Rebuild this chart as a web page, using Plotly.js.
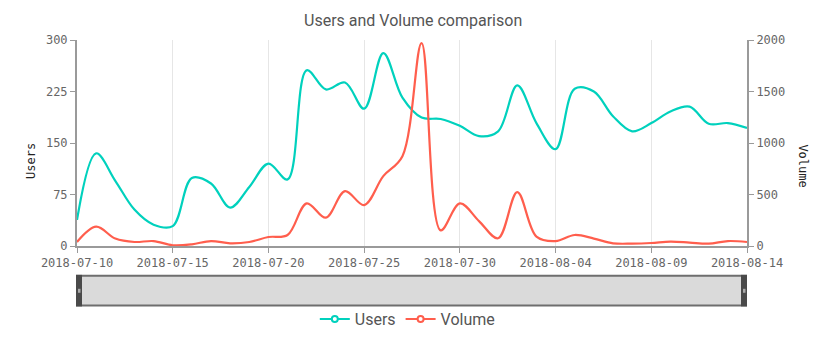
<!DOCTYPE html>
<html>
<head>
<meta charset="utf-8">
<script src="https://cdn.plot.ly/plotly-3.0.1.min.js"></script>
<style>html,body{margin:0;padding:0;background:#fff;}#chart{width:838px;height:346px;}</style>
</head>
<body>
<div id="chart"></div>
<script>
var dates = ["2018-07-10","2018-07-11","2018-07-12","2018-07-13","2018-07-14","2018-07-15","2018-07-16","2018-07-17","2018-07-18","2018-07-19","2018-07-20","2018-07-21","2018-07-22","2018-07-23","2018-07-24","2018-07-25","2018-07-26","2018-07-27","2018-07-28","2018-07-29","2018-07-30","2018-07-31","2018-08-01","2018-08-02","2018-08-03","2018-08-04","2018-08-05","2018-08-06","2018-08-07","2018-08-08","2018-08-09","2018-08-10","2018-08-11","2018-08-12","2018-08-13","2018-08-14"];
var users = [38,135,95,53,31,29,99,91,56,86,120,97,256,228,238,200,281,216,187,185,175,160,167,234,179,141,229,225,189,167,179,196,203,178,179,172];
var volume = [39,188,72,39,48,7,16,48,26,39,87,107,414,275,533,397,678,872,1970,152,414,242,75,523,91,48,107,72,26,23,29,42,33,23,48,39];
var xTickVals = ["2018-07-10","2018-07-15","2018-07-20","2018-07-25","2018-07-30","2018-08-04","2018-08-09","2018-08-14"];
var usersTicks = [0,75,150,225,300];
var volumeTicks = [0,500,1000,1500,2000];

var cUsers = "#00d1bd", cVol = "#ff5e4d";
var mono = "DejaVu Sans Mono, Liberation Mono, monospace";

var traces = [
  {x: dates, y: users, name: "Users", type: "scatter", mode: "lines", yaxis: "y",
   line: {color: cUsers, width: 2.2, shape: "spline", smoothing: 1}, showlegend: false, hoverinfo: "x+y"},
  {x: dates, y: volume, name: "Volume", type: "scatter", mode: "lines", yaxis: "y2",
   line: {color: cVol, width: 2.2, shape: "spline", smoothing: 1}, showlegend: false, hoverinfo: "x+y"},
  {x: [null], y: [null], name: "Users", type: "scatter", mode: "lines+markers", yaxis: "y",
   line: {color: cUsers, width: 2}, marker: {symbol: "circle", size: 6, color: "#fff", line: {color: cUsers, width: 2}}},
  {x: [null], y: [null], name: "Volume", type: "scatter", mode: "lines+markers", yaxis: "y2",
   line: {color: cVol, width: 2}, marker: {symbol: "circle", size: 6, color: "#fff", line: {color: cVol, width: 2}}}
];

var pH = 207;
function py(pix){ return (247 - pix) / pH; }
function px(pix){ return (pix - 77) / 670; }

var layout = {
  width: 838, height: 346,
  margin: {l: 77, r: 91, t: 40, b: 99},
  paper_bgcolor: "#fff", plot_bgcolor: "#fff",
  title: {text: "Users and Volume comparison", x: 0.493, xanchor: "center", y: 1 - 20/346, yanchor: "middle", yref: "container",
          font: {family: "Roboto, sans-serif", size: 16, color: "#555"}},
  xaxis: {type: "date", range: ["2018-07-10", "2018-08-14"], tickvals: xTickVals, ticktext: xTickVals,
          showgrid: true, gridcolor: "#e6e6e6", gridwidth: 1,
          showline: true, linecolor: "#9a9a9a", linewidth: 2,
          ticks: "outside", ticklen: 5, tickcolor: "#9a9a9a", tickwidth: 1,
          tickfont: {family: mono, size: 12, color: "#666"}, zeroline: false, fixedrange: true},
  yaxis: {range: [0, 300], tickvals: usersTicks, showgrid: false, zeroline: false,
          showline: true, linecolor: "#9a9a9a", linewidth: 2,
          ticks: "outside", ticklen: 5, tickcolor: "#9a9a9a", tickwidth: 1,
          tickfont: {family: mono, size: 12, color: "#666"}, fixedrange: true},
  yaxis2: {range: [0, 2000], tickvals: volumeTicks, overlaying: "y", side: "right", showgrid: false, zeroline: false,
          showline: true, linecolor: "#9a9a9a", linewidth: 2,
          ticks: "outside", ticklen: 5, tickcolor: "#9a9a9a", tickwidth: 1,
          tickfont: {family: mono, size: 12, color: "#666"}, fixedrange: true},
  showlegend: true,
  legend: {orientation: "h", x: 0.493, xanchor: "center", y: py(319), yanchor: "middle",
           font: {family: "Roboto, sans-serif", size: 16, color: "#555"}, itemwidth: 30, bgcolor: "rgba(0,0,0,0)"},
  annotations: [
    {text: "Users", xref: "paper", yref: "paper", x: px(22.5), y: py(162), showarrow: false, textangle: -90,
     font: {family: mono, size: 12, color: "#222"}},
    {text: "Volume", xref: "paper", yref: "paper", x: px(812), y: py(166), showarrow: false, textangle: 90,
     font: {family: mono, size: 12, color: "#222"}}
  ],
  shapes: [
    {type: "rect", xref: "paper", yref: "paper", x0: px(77), x1: px(746), y0: py(277), y1: py(306.7),
     fillcolor: "#dadada", line: {color: "#6e6e6e", width: 2}, layer: "above"},
    {type: "rect", xref: "paper", yref: "paper", x0: px(76), x1: px(82), y0: py(276), y1: py(307.7),
     fillcolor: "#4a4a4a", line: {width: 0}, layer: "above"},
    {type: "rect", xref: "paper", yref: "paper", x0: px(741), x1: px(747), y0: py(276), y1: py(307.7),
     fillcolor: "#4a4a4a", line: {width: 0}, layer: "above"},
    {type: "rect", xref: "paper", yref: "paper", x0: px(78), x1: px(80.5), y0: py(290), y1: py(294),
     fillcolor: "#aaaaaa", line: {width: 0}, layer: "above"},
    {type: "rect", xref: "paper", yref: "paper", x0: px(743), x1: px(745.5), y0: py(290), y1: py(294),
     fillcolor: "#aaaaaa", line: {width: 0}, layer: "above"}
  ]
};

Plotly.newPlot("chart", traces, layout, {displayModeBar: false, staticPlot: true});
</script>
</body>
</html>
